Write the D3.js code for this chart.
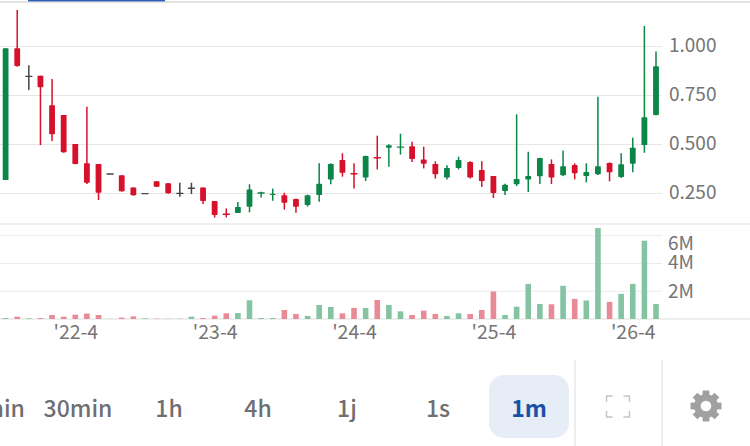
<!DOCTYPE html>
<html><head><meta charset="utf-8">
<script src="https://cdn.jsdelivr.net/npm/d3@7/dist/d3.min.js"></script>
<style>
html,body{margin:0;padding:0;background:#fff;overflow:hidden}
svg{display:block}
text{font-family:"Noto Sans CJK JP","Noto Sans",sans-serif}
</style></head><body><svg id="c" width="750" height="446"></svg>
<script>
const opens  = [.319,.991,.851,.851,.700,.651,.503,.404,.401,.353,.343,.281,.253,.312,.302,.254,.280,.281,.212,.148,.151,.183,.253,.242,.241,.222,.191,.242,.322,.421,.354,.332,.436,.484,.488,.491,.424,.401,.331,.380,.411,.370,.339,.263,.297,.322,.338,.401,.343,.395,.339,.348,.406,.334,.402,.497,.651];
const closes = [.991,.901,.851,.792,.552,.460,.401,.305,.254,.353,.261,.241,.253,.285,.251,.254,.280,.212,.140,.146,.181,.271,.256,.249,.203,.183,.241,.300,.401,.356,.352,.441,.434,.496,.490,.426,.402,.348,.380,.421,.332,.314,.253,.295,.324,.339,.431,.332,.389,.353,.360,.389,.358,.399,.484,.639,.899];
const highs  = [.991,1.186,.904,.851,.834,.651,.503,.693,.401,.353,.343,.281,.253,.312,.302,.305,.305,.281,.212,.174,.207,.297,.259,.275,.254,.225,.244,.404,.404,.455,.404,.443,.545,.501,.555,.514,.489,.414,.394,.438,.414,.414,.339,.300,.654,.463,.433,.424,.470,.404,.404,.744,.409,.455,.535,1.105,.974];
const lows   = [.319,.897,.778,.497,.518,.458,.399,.298,.217,.353,.259,.239,.253,.283,.249,.234,.247,.196,.127,.128,.151,.154,.229,.213,.168,.152,.183,.208,.297,.336,.276,.314,.373,.387,.448,.411,.378,.326,.322,.373,.327,.283,.227,.242,.288,.258,.298,.298,.339,.322,.307,.344,.312,.329,.358,.458,.648];
const volumes= [.07,.17,.05,.07,.29,.17,.31,.39,.29,.01,.10,.19,.05,.03,.02,.02,.17,.07,.24,.41,.43,1.35,.07,.07,.65,.36,.22,1.01,.87,.41,.80,.80,1.37,1.01,.55,.29,.60,.36,.22,.41,.36,.65,1.98,.29,.89,2.53,1.08,1.06,2.39,1.45,1.33,6.55,1.23,1.81,2.53,5.64,1.08];
const priceTicks = [.25,.5,.75,1];
const volumeTicks = [2,4,6];
const timeTickIndex = [6,18,30,42,54];
const timeTickLabels = ["'22-4","'23-4","'24-4","'25-4","'26-4"];
const menuLabels = ["5min","30min","1h","4h","1j","1s","1m"];
const menuCenters = [-3,78,169,258,347,438,529];

const UP="#0b8548",DOWN="#d7102b",FLAT="#444",GREY="#757575";
const svg=d3.select("#c");
const x=d3.scaleLinear().domain([0,56]).range([5.6,656]);
const y=d3.scaleLinear().domain([0,1]).range([242.5,46.5]);
const v=d3.scaleLinear().domain([0,6]).range([319,235.7]);
const col=i=>closes[i]>opens[i]?UP:closes[i]<opens[i]?DOWN:FLAT;

// frame rules
svg.append("rect").attr("x",0).attr("y",1).attr("width",750).attr("height",2).attr("fill","#e3e3e3");
svg.append("rect").attr("x",28).attr("y",0).attr("width",137).attr("height",1.4).attr("fill","#2a5bb5");
[[224,"#e0e0e0"],[319,"#dedede"]].forEach(([py,c])=>svg.append("line").attr("x1",0).attr("x2",750).attr("y1",py).attr("y2",py).attr("stroke",c).attr("stroke-width",1.2));

// grid
svg.append("g").selectAll("line").data(priceTicks).join("line").attr("x1",0).attr("x2",662)
  .attr("y1",y).attr("y2",y).attr("stroke","#e6e6e6").attr("stroke-width",1);
svg.append("g").selectAll("line").data(volumeTicks).join("line").attr("x1",0).attr("x2",662)
  .attr("y1",v).attr("y2",v).attr("stroke","#ececec").attr("stroke-width",1);

// axes
const pa=svg.append("g").attr("transform","translate(669,-1.5)")
  .call(d3.axisRight(y).tickValues(priceTicks).tickSize(0).tickPadding(0).tickFormat(d3.format(".3f")));
pa.select(".domain").remove();
pa.selectAll("text").attr("font-size",19).attr("fill",GREY).style("font-family",'"Noto Sans CJK JP"');
const va=svg.append("g").attr("transform","translate(668,0)")
  .call(d3.axisRight(v).tickValues(volumeTicks).tickSize(0).tickPadding(0).tickFormat(d=>d+"M"));
va.select(".domain").remove();
va.selectAll("text").attr("font-size",19).attr("fill",GREY).style("font-family",'"Noto Sans CJK JP"')
  .attr("transform",d=>d===6?"translate(0,8)":d===4?"translate(0,-1)":null);
const ta=svg.append("g").attr("transform","translate(0,319)")
  .call(d3.axisBottom(x).tickValues(timeTickIndex).tickSize(0).tickPadding(6).tickFormat((d,i)=>timeTickLabels[i]));
ta.select(".domain").remove();
ta.selectAll("text").attr("font-size",19.5).attr("fill",GREY).style("font-family",'"Noto Sans CJK JP"');

// volume
svg.append("g").selectAll("rect").data(volumes).join("rect")
  .attr("x",(d,i)=>x(i)-2.8).attr("width",5.6)
  .attr("y",d=>v(d)).attr("height",d=>v(0)-v(d))
  .attr("fill",(d,i)=>closes[i]>=opens[i]?"#84c4a2":"#e98a97");

// candles
const g=svg.append("g");
g.selectAll("line").data(opens).join("line")
  .attr("x1",(d,i)=>x(i)).attr("x2",(d,i)=>x(i))
  .attr("y1",(d,i)=>y(highs[i])).attr("y2",(d,i)=>y(lows[i]))
  .attr("stroke",(d,i)=>col(i)).attr("stroke-width",1.5);
g.selectAll("rect").data(opens).join("rect")
  .attr("x",(d,i)=>x(i)-(opens[i]===closes[i]||Math.abs(opens[i]-closes[i])<.004?3.7:2.9))
  .attr("width",(d,i)=>opens[i]===closes[i]||Math.abs(opens[i]-closes[i])<.004?7.4:5.8)
  .attr("y",(d,i)=>Math.min(y(opens[i]),y(closes[i])))
  .attr("height",(d,i)=>Math.max(1.4,Math.abs(y(opens[i])-y(closes[i]))))
  .attr("rx",.7).attr("fill",(d,i)=>col(i));

// menu
svg.append("rect").attr("x",489).attr("y",375).attr("width",80).attr("height",63).attr("rx",15).attr("fill","#e6edf7");
svg.append("g").selectAll("text").data(menuLabels).join("text")
  .attr("x",(d,i)=>menuCenters[i]).attr("y",417).attr("text-anchor","middle").attr("font-size",23)
  .attr("font-weight",(d,i)=>i===6?700:500).attr("fill",(d,i)=>i===6?"#1a4fa8":"#6f6f72")
  .style("font-family",'"Noto Sans CJK JP"').text(d=>d);
[575,662].forEach(px=>svg.append("line").attr("x1",px).attr("x2",px).attr("y1",360).attr("y2",446).attr("stroke","#dcdcdc"));
// fullscreen icon
const corners=[[606.5,396,1,1],[629.5,396,-1,1],[606.5,417,1,-1],[629.5,417,-1,-1]];
svg.append("g").selectAll("path").data(corners).join("path")
  .attr("d",d=>d3.line()([[d[0]+d[2]*6,d[1]],[d[0],d[1]],[d[0],d[1]+d[3]*6]]))
  .attr("fill","none").attr("stroke","#c4c4c4").attr("stroke-width",1.4);
// gear icon
const gear=svg.append("g").attr("transform","translate(706,406)");
gear.selectAll("rect").data(d3.range(8)).join("rect").attr("x",-3.4).attr("y",-15.5).attr("width",6.8).attr("height",8)
  .attr("fill","#a0a0a0").attr("transform",d=>`rotate(${d*45})`);
gear.append("circle").attr("r",8.6).attr("fill","none").attr("stroke","#a0a0a0").attr("stroke-width",6.5);
</script></body></html>
